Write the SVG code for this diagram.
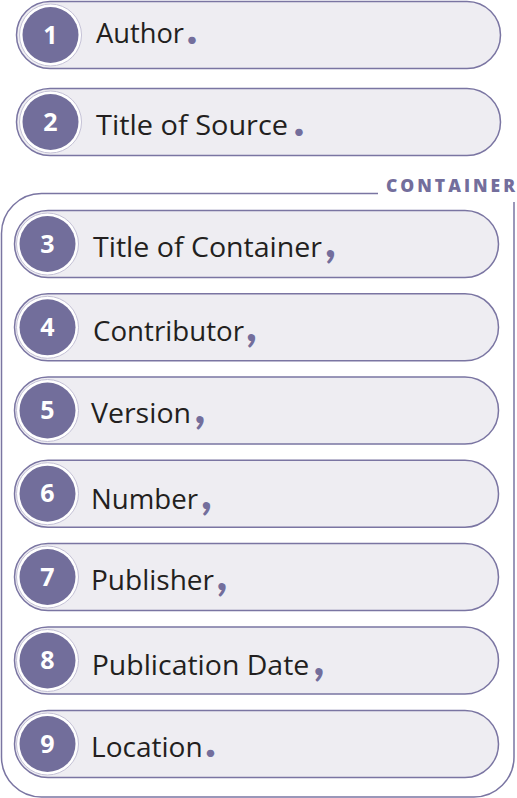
<svg xmlns="http://www.w3.org/2000/svg" width="517" height="798" viewBox="0 0 517 798">
<style>
.pill{fill:#eeedf2;stroke:#7a75a2;stroke-width:1.5}
.ring{fill:#ffffff;stroke:#c4c1d6;stroke-width:1}
.dot{fill:#726e9b}
.num{font-family:"Open Sans","Liberation Sans",sans-serif;font-weight:bold;font-size:25px;fill:#ffffff;text-anchor:middle}
.lbl{font-family:"Open Sans","Liberation Sans",sans-serif;font-size:28px;fill:#231f20}
.p{font-family:Lato,"Open Sans",sans-serif;font-weight:900;font-size:46px;fill:#736e9c}
.cont{fill:none;stroke:#7a75a2;stroke-width:1.5}
.ctl{font-family:"Open Sans","Liberation Sans",sans-serif;font-weight:800;font-size:17.5px;fill:#736e9c}
</style>
<g id="container">
<path class="cont" d="M378 193.5 H41.5 A40 40 0 0 0 1.5 233.5 V757 A40 40 0 0 0 41.5 797 H474 A40 40 0 0 0 514 757 V202"/>
<text class="ctl" x="386" y="192" textLength="129" lengthAdjust="spacing">CONTAINER</text>
</g>
<g id="node1">
<rect class="pill" x="16.5" y="1.5" width="484" height="67" rx="33.5"/>
<circle class="ring" cx="50.5" cy="35" r="31"/><circle class="dot" cx="50.5" cy="35" r="28"/>
<text class="num" x="50.5" y="43.5">1</text>
<text class="lbl" x="96" y="43.3" textLength="88" lengthAdjust="spacingAndGlyphs">Author</text>
<text class="p" x="186.5" y="43.8">.</text>
</g>
<g id="node2">
<rect class="pill" x="16.5" y="88.5" width="484" height="67" rx="33.5"/>
<circle class="ring" cx="50.5" cy="122" r="31"/><circle class="dot" cx="50.5" cy="122" r="28"/>
<text class="num" x="50.5" y="130.5">2</text>
<text class="lbl" x="96" y="135" textLength="192" lengthAdjust="spacingAndGlyphs">Title of Source</text>
<text class="p" x="293.5" y="135.5">.</text>
</g>
<g id="node3">
<rect class="pill" x="14.5" y="210.5" width="484" height="67" rx="33.5"/>
<circle class="ring" cx="47.5" cy="244" r="31"/><circle class="dot" cx="47.5" cy="244" r="28"/>
<text class="num" x="47.5" y="252.5">3</text>
<text class="lbl" x="93" y="257" textLength="229" lengthAdjust="spacingAndGlyphs">Title of Container</text>
<text class="p" x="325" y="257">,</text>
</g>
<g id="node4">
<rect class="pill" x="14.5" y="293.8" width="484" height="67" rx="33.5"/>
<circle class="ring" cx="47.5" cy="327.3" r="31"/><circle class="dot" cx="47.5" cy="327.3" r="28"/>
<text class="num" x="47.5" y="335.8">4</text>
<text class="lbl" x="93" y="340.7" textLength="151" lengthAdjust="spacingAndGlyphs">Contributor</text>
<text class="p" x="246" y="340.7">,</text>
</g>
<g id="node5">
<rect class="pill" x="14.5" y="377" width="484" height="67" rx="33.5"/>
<circle class="ring" cx="47.5" cy="410.5" r="31"/><circle class="dot" cx="47.5" cy="410.5" r="28"/>
<text class="num" x="47.5" y="419">5</text>
<text class="lbl" x="91" y="423.3" textLength="100" lengthAdjust="spacingAndGlyphs">Version</text>
<text class="p" x="194.5" y="423.3">,</text>
</g>
<g id="node6">
<rect class="pill" x="14.5" y="460.2" width="484" height="67" rx="33.5"/>
<circle class="ring" cx="47.5" cy="493.7" r="31"/><circle class="dot" cx="47.5" cy="493.7" r="28"/>
<text class="num" x="47.5" y="502.2">6</text>
<text class="lbl" x="91" y="509" textLength="107" lengthAdjust="spacingAndGlyphs">Number</text>
<text class="p" x="201" y="509">,</text>
</g>
<g id="node7">
<rect class="pill" x="14.5" y="543.5" width="484" height="67" rx="33.5"/>
<circle class="ring" cx="47.5" cy="577" r="31"/><circle class="dot" cx="47.5" cy="577" r="28"/>
<text class="num" x="47.5" y="585.5">7</text>
<text class="lbl" x="91" y="590" textLength="123" lengthAdjust="spacingAndGlyphs">Publisher</text>
<text class="p" x="216.5" y="590">,</text>
</g>
<g id="node8">
<rect class="pill" x="14.5" y="627" width="484" height="67" rx="33.5"/>
<circle class="ring" cx="47.5" cy="660.5" r="31"/><circle class="dot" cx="47.5" cy="660.5" r="28"/>
<text class="num" x="47.5" y="669">8</text>
<text class="lbl" x="91.7" y="675" textLength="217.6" lengthAdjust="spacingAndGlyphs">Publication Date</text>
<text class="p" x="313.5" y="675">,</text>
</g>
<g id="node9">
<rect class="pill" x="14.5" y="710.5" width="484" height="67" rx="33.5"/>
<circle class="ring" cx="47.5" cy="744" r="31"/><circle class="dot" cx="47.5" cy="744" r="28"/>
<text class="num" x="47.5" y="752.5">9</text>
<text class="lbl" x="91" y="756.7" textLength="111.7" lengthAdjust="spacingAndGlyphs">Location</text>
<text class="p" x="205" y="757.2">.</text>
</g>
</svg>
